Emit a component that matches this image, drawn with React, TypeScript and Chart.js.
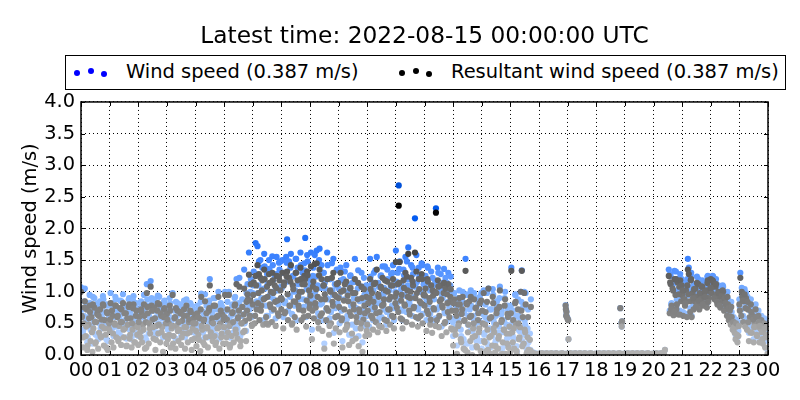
import { useEffect, useRef } from "react";
import Chart from "chart.js/auto";

const FONT = "'DejaVu Sans', sans-serif";

const titleText = "Latest time: 2022-08-15 00:00:00 UTC";
const yAxisLabel = "Wind speed (m/s)";
const windLabel = "Wind speed (0.387 m/s)";
const resultantLabel = "Resultant wind speed (0.387 m/s)";
const hourLabels = ["00","01","02","03","04","05","06","07","08","09","10","11","12","13","14","15","16","17","18","19","20","21","22","23","00"];

// rows below are one hour of the day, the regular readings and the extra ones kept apart
const evenMinutes = [0,2,4,6,8,10,12,14,16,18,20,22,24,26,28,30,32,34,36,38,40,42,44,46,48,50,52,54,56,58];
const oddMinutes = [1,5,7,11,13,17,19,23,25,29,31,35,37,41,43,47,49,53,55,59];

const calmHour = [.02,.01,.02,.03,.01,.02,.02,.01,.03,.02,.01,.02,.02,.03,.01,.02,.01,.02,.03,.02,.01,.02,.02,.01,.03,.02,.02,.01,.02,.02];

const windEven: (number | null)[][] = [
  [1.07,.72,.35,.62,1.05,.48,.82,.28,.6,.95,.4,.72,.18,.55,.9,.33,.66,.78,.25,.5,.85,.42,.6,.93,.3,.68,.5,.8,.22,.58],
  [.5,.98,.38,.75,.3,.62,.92,.45,.7,.35,.58,.86,.3,.66,.96,.42,.55,.78,.28,.62,.88,.4,.7,.25,.52,.93,.36,.6,.82,.47],
  [.3,.72,.5,.85,.38,.6,.95,.28,.66,1.12,.78,.34,.56,1.17,.9,.7,.42,.88,.3,.6,.82,.5,.92,.36,.74,.58,.28,.84,.46,.64],
  [.78,.4,.62,.9,.3,.55,.98,.44,.7,.26,.6,.82,.38,.52,.76,.32,.66,.48,.86,.28,.58,.74,.36,.64,.5,.8,.24,.56,.7,.42],
  [.62,.3,.78,.46,.7,.24,.97,.52,.36,.68,.96,.42,.58,.28,.82,1.2,.5,.66,.38,.9,.46,.32,.72,.56,1.0,.26,.62,.44,.76,.34],
  [.58,1.0,.34,.7,.5,1.0,.28,.62,.46,.8,.36,.9,.54,1.2,.42,.72,1.22,.3,.62,.88,.5,1.35,.66,.38,.82,.95,1.62,.76,1.2,.6],
  [.98,1.32,.62,1.77,.85,1.72,1.1,.72,1.5,.9,1.38,.55,1.6,1.05,.78,1.28,.62,1.5,.95,1.15,.7,1.42,.88,1.25,.58,1.55,1.02,.8,1.35,1.48],
  [.9,1.5,.6,1.3,.85,1.55,1.83,.7,1.48,.92,1.6,.65,1.25,1.0,.78,1.52,.55,1.38,.95,1.15,1.62,.72,1.3,.88,1.45,1.85,.6,1.58,.8,1.2],
  [.98,1.62,.4,1.25,.75,1.58,.92,1.65,1.1,.6,1.68,.8,1.42,.55,1.3,.18,1.05,.72,1.62,.88,.5,1.2,.68,1.45,.95,.35,1.12,.6,1.35,.82],
  [1.05,.5,1.38,.7,.22,1.2,.88,.55,1.42,.62,1.0,.32,1.25,.78,.48,1.15,.9,1.52,.42,.68,1.05,.3,.85,.58,1.3,.2,.72,.95,.45,1.1],
  [.62,1.0,.45,1.52,.78,1.15,.55,1.3,.9,.68,1.55,.5,1.08,.82,1.25,.6,1.4,.95,.72,1.18,.48,1.35,.88,1.02,.62,1.28,.78,1.42,.55,1.1],
  [1.65,.9,1.3,2.68,1.48,.72,1.1,.55,1.35,.95,1.55,.68,1.2,1.7,.85,1.05,1.42,.62,1.28,.92,2.16,.75,1.15,.58,1.38,1.0,.8,1.45,.65,1.12],
  [.92,1.25,.55,1.4,.8,1.05,.65,1.32,.5,1.1,.88,1.18,2.32,.72,1.38,.6,1.0,1.28,.45,.9,1.15,.68,1.22,.52,.98,1.3,.75,1.1,.58,.85],
  [.3,.98,.55,.85,.15,.9,.65,.9,.4,.8,1.0,.25,.7,1.52,.95,.18,.62,.95,.38,.78,.12,.58,.98,.45,.88,.28,.68,.52,.92,.22],
  [.1,.65,1.02,.35,.8,.2,.55,1.05,.42,.12,.72,.3,.95,.5,.18,.62,.85,.25,.45,1.08,.1,.7,.36,.55,.9,.15,.48,.78,.28,.6],
  [.15,1.38,.5,.7,.25,.95,.62,.05,.88,.4,.58,1.0,1.34,.75,.32,.55,.98,.1,.42,.2,.06,.08,.04,.03,.04,.02,.03,.02,.02,.02],
  calmHour,
  calmHour,
  calmHour,
  calmHour,
  [.02,.01,.02,.03,.01,.02,.02,.01,.03,.02,.01,.02,.08,null,null,null,1.35,.7,1.25,.82,1.12,.65,1.33,1.0,.78,1.2,.68,1.15,1.28,.9],
  [1.05,.68,1.0,.85,1.15,.65,1.52,1.38,.95,1.25,.62,1.08,.8,.92,1.12,1.0,.88,1.2,.78,1.05,.95,1.18,.85,1.0,.9,1.12,.82,1.25,.98,1.1],
  [1.22,1.05,1.25,1.18,.95,1.15,1.05,.88,1.1,1.02,.82,1.02,.92,1.08,.78,.95,.85,.7,.88,.62,.78,.55,.68,.48,.6,.42,.32,.52,.28,.38],
  [.88,1.3,.72,1.0,.62,.92,.55,.98,.5,.8,.35,.7,.88,.45,.72,.25,.62,.8,.42,.55,.7,.28,.52,.62,.35,.48,.58,.22,.42,.55],
];

const resultantEven: (number | null)[][] = [
  [1.0,.6,.12,.5,.85,.3,.72,.15,.48,.78,.22,.6,.05,.42,.75,.18,.52,.65,.1,.35,.72,.28,.45,.8,.15,.55,.32,.68,.08,.42],
  [.38,.82,.2,.62,.12,.5,.78,.28,.6,.22,.46,.74,.16,.52,.82,.28,.42,.66,.15,.48,.76,.26,.58,.12,.4,.8,.2,.46,.7,.32],
  [.16,.6,.36,.72,.2,.48,.8,.1,.52,.98,.66,.18,.42,1.08,.78,.56,.26,.75,.08,.46,.7,.34,.8,.2,.62,.44,.05,.72,.3,.5],
  [.65,.25,.5,.78,.12,.42,.95,.3,.58,.1,.46,.7,.22,.4,.66,.16,.54,.34,.72,.1,.44,.62,.2,.52,.36,.68,.08,.42,.58,.26],
  [.5,.14,.66,.32,.58,.06,.92,.4,.2,.56,.85,.28,.44,.12,.7,1.1,.36,.52,.22,.78,.3,.16,.6,.42,.92,.1,.5,.28,.64,.18],
  [.44,.95,.18,.56,.36,.95,.12,.5,.3,.68,.2,.78,.4,1.12,.26,.6,1.08,.14,.5,.76,.36,1.05,.54,.22,.7,.88,1.27,.62,1.12,.46],
  [.8,1.15,.5,1.25,.72,1.42,.98,.55,1.22,.78,1.18,.48,1.35,.9,.6,1.08,.48,1.28,.8,1.0,.52,1.18,.72,1.1,.46,1.25,.86,.62,1.18,1.02],
  [.72,1.3,.42,1.15,.68,1.28,1.32,.55,1.22,.78,1.42,.48,1.1,.85,.6,1.3,.4,1.18,.78,1.0,1.38,.55,1.12,.7,1.25,1.2,.45,1.32,.62,1.02],
  [.8,1.4,.25,1.08,.58,1.44,.75,1.45,.92,.42,1.35,.62,1.2,.38,1.1,.1,.88,.55,1.2,.7,.32,1.02,.5,1.22,.78,.18,.95,.42,1.12,.62],
  [.9,.36,1.3,.55,.12,1.02,.72,.4,1.16,.48,.85,.16,1.05,.62,.34,.98,.72,1.2,.26,.52,.88,.14,.68,.42,1.08,.05,.56,.78,.3,.92],
  [.48,.82,.32,1.2,.62,.98,.4,1.12,.75,.52,1.35,.36,.92,.68,1.08,.44,1.22,.8,.56,1.02,.38,1.16,.72,.88,.48,1.1,.62,1.2,.42,.92],
  [1.47,.75,1.12,2.36,1.47,.58,.95,.42,1.18,.8,1.3,.52,1.02,1.6,.7,.9,1.22,.48,1.1,.76,1.62,.6,.98,.45,1.2,.85,.62,1.28,.5,.95],
  [.78,1.05,.38,1.2,.65,.9,.48,1.1,.35,.94,.72,1.0,2.25,.55,1.18,.44,.85,1.1,.3,.75,.98,.5,1.05,.36,.82,1.12,.6,.92,.42,.7],
  [.15,.88,.4,.7,.02,.8,.5,.8,.25,.65,.92,.1,.55,1.33,.82,.04,.48,.85,.22,.62,0,.42,.88,.3,.75,.12,.55,.36,.82,.06],
  [0,.5,.98,.2,.68,.06,.4,1.05,.28,.02,.6,.15,.82,.36,.04,.48,.72,.1,.3,1.02,0,.55,.2,.4,.78,.02,.34,.65,.12,.45],
  [.05,1.33,.36,.55,.1,.82,.48,0,.72,.25,.44,1.0,1.33,.6,.18,.4,.8,.02,.28,.08,.05,.07,.04,.03,.03,.02,.02,.02,.01,.02],
  calmHour,
  calmHour,
  calmHour,
  calmHour,
  [.02,.01,.02,.03,.01,.02,.02,.01,.03,.02,.01,.02,.08,null,null,null,1.25,.66,1.12,.78,1.05,.63,1.2,.95,.72,1.15,.64,1.08,1.18,.85],
  [.95,.62,.88,.78,1.02,.6,1.35,1.28,.85,1.18,.6,.98,.72,.85,1.05,.92,.8,1.12,.72,.95,.88,1.08,.78,.92,.82,1.02,.75,1.18,.9,1.0],
  [1.2,.98,1.18,1.1,.88,1.08,.95,.8,1.0,.92,.75,.95,.85,1.0,.7,.88,.78,.62,.8,.55,.7,.48,.6,.4,.52,.35,.25,.45,.2,.3],
  [.8,1.22,.62,.92,.52,.85,.45,.9,.4,.72,.22,.6,.8,.35,.62,.2,.5,.72,.32,.45,.62,.2,.42,.55,.25,.38,.5,.12,.32,.45],
];

const windOdd: (number | null)[][] = [
  [.72,.4,.85,.55,.2,.7,.82,.46,.92,.66,.32,.82,.7,.42,.68,.88,.52,.25,.78,.6],
  [.68,.82,.44,.6,.88,.74,.36,.64,.85,.5,.78,.26,.7,.9,.42,.62,.86,.32,.74,.54],
  [.62,.4,.8,.5,.74,.24,.88,.62,.46,.82,.56,.7,.36,.94,.6,.78,.48,.72,.86,.3],
  [.68,.44,.82,.58,.3,.72,.84,.5,.64,.8,.4,.74,.54,.88,.46,.68,.82,.36,.62,.76],
  [.5,.72,.36,.84,.58,.66,.28,.78,.54,.86,.42,.7,.62,.9,.32,.74,.56,.82,.46,.68],
  [.72,.4,.84,.58,.28,.78,.64,.92,.46,.7,.82,.34,.62,.76,.5,.98,1.12,.72,1.0,.62],
  [1.1,.78,1.28,.98,1.48,.86,1.2,1.05,1.4,.62,1.12,1.36,.92,1.56,1.18,1.02,1.28,.82,1.46,1.08],
  [1.06,1.3,.82,1.46,1.16,.94,1.38,.64,1.24,1.02,1.52,1.12,.88,1.42,1.2,.76,1.34,1.04,1.48,.9],
  [1.12,.86,1.38,1.0,1.24,.66,1.5,1.06,.82,1.3,1.14,.9,1.42,.58,1.2,1.02,1.52,.74,1.1,1.34],
  [.92,1.18,.72,1.02,1.32,.56,1.12,.84,1.26,.3,.98,1.16,.74,1.34,.88,.62,1.08,1.22,.82,.5],
  [.86,1.08,1.24,.72,1.02,1.34,.82,1.14,.58,1.26,.96,1.06,1.4,.68,1.2,.88,1.1,1.3,.74,1.0],
  [1.16,.84,1.36,1.04,.7,1.26,.94,1.48,1.1,.8,1.2,1.38,.9,1.08,1.58,.72,1.24,1.0,1.42,1.14],
  [1.12,.86,1.38,1.02,.7,1.22,.9,.58,1.16,1.3,.76,1.06,.94,1.36,.66,1.14,.84,1.02,1.24,.52],
  [.98,.44,.76,.58,1.02,.3,.86,.66,.18,.96,.48,.72,1.02,.38,.62,.9,.22,.8,.54,.98],
  [.82,.32,.6,.98,.16,.72,.4,1.04,.54,.22,.78,.36,.9,.64,.1,.52,1.0,.26,.72,.44],
  [.78,.3,.54,.96,.14,.62,.38,.84,.22,1.0,.48,.12,.72,.34,.88],
  [],
  [],
  [],
  [],
  [null,null,null,null,null,null,null,null,null,null,null,1.28,.8,1.12,.74,1.32,.88,1.04,.7,1.2],
  [1.1,.96,.88,1.2,1.04,.74,1.3,.98,1.12,.82,1.24,.94,1.06,1.16,.88,1.08,1.0,1.24,.92,1.14],
  [1.14,1.24,.98,1.2,.92,1.06,.86,1.02,1.1,.98,.9,1.0,.82,.66,.84,.58,.5,.56,.38,.52],
  [.76,1.06,.94,1.04,.82,.92,.58,.42,.76,.62,.5,.68,.36,.6,.54,.42,.24,.5,.34,.08],
];

const resultantOdd: (number | null)[][] = [
  [.62,.28,.75,.45,.08,.58,.68,.36,.8,.52,.2,.7,.62,.3,.56,.78,.42,.12,.66,.5],
  [.56,.7,.34,.48,.78,.62,.25,.52,.72,.4,.66,.14,.58,.8,.32,.5,.74,.2,.62,.44],
  [.52,.28,.68,.4,.62,.12,.76,.5,.34,.7,.44,.58,.24,.82,.48,.66,.36,.6,.74,.18],
  [.56,.32,.7,.46,.18,.6,.74,.38,.52,.68,.28,.62,.44,.78,.34,.56,.7,.24,.5,.64],
  [.38,.6,.24,.72,.46,.54,.16,.66,.42,.74,.3,.58,.5,.78,.2,.62,.44,.7,.34,.56],
  [.6,.28,.72,.46,.16,.66,.52,.8,.34,.58,.7,.22,.5,.64,.38,.84,.96,.58,.86,.48],
  [.95,.62,1.1,.82,1.28,.7,1.02,.88,1.2,.5,.92,1.14,.76,1.3,.98,.84,1.06,.66,1.24,.9],
  [.88,1.1,.66,1.24,.96,.78,1.16,.5,1.04,.84,1.3,.92,.72,1.2,1.0,.6,1.12,.86,1.26,.74],
  [.94,.7,1.16,.82,1.04,.52,1.26,.88,.66,1.1,.96,.74,1.2,.46,1.0,.84,1.3,.6,.92,1.14],
  [.76,1.0,.58,.86,1.12,.44,.94,.68,1.06,.22,.8,.98,.6,1.14,.72,.5,.9,1.04,.66,.38],
  [.7,.9,1.04,.58,.84,1.14,.66,.96,.46,1.06,.78,.88,1.18,.54,1.0,.72,.92,1.1,.6,.82],
  [.98,.68,1.14,.86,.56,1.06,.78,1.24,.92,.64,1.0,1.16,.74,.9,1.32,.58,1.04,.82,1.2,.96],
  [.94,.7,1.16,.84,.56,1.02,.74,.46,.98,1.08,.62,.88,.78,1.14,.52,.96,.68,.84,1.04,.4],
  [.82,.32,.62,.46,.9,.2,.72,.54,.08,.8,.36,.6,.92,.28,.5,.74,.14,.66,.42,.86],
  [.7,.22,.48,.84,.08,.58,.3,.92,.42,.14,.66,.26,.76,.52,.02,.4,.88,.18,.6,.34],
  [.66,.2,.42,.84,.06,.5,.28,.7,.14,.98,.36,.04,.6,.24,.76],
  [],
  [],
  [],
  [],
  [null,null,null,null,null,null,null,null,null,null,null,1.15,.72,1.02,.68,1.2,.8,.96,.64,1.1],
  [1.02,.88,.82,1.1,.96,.68,1.2,.9,1.04,.76,1.14,.86,.98,1.08,.8,1.0,.92,1.14,.84,1.06],
  [1.06,1.16,.9,1.12,.84,.98,.78,.94,1.02,.9,.82,.92,.74,.6,.76,.52,.44,.5,.32,.46],
  [.7,1.0,.86,.96,.74,.84,.52,.36,.68,.56,.44,.6,.3,.52,.46,.36,.18,.42,.28,.02],
];

// short bursts of readings during the calm stretch
const burstTimes = [16.93,16.94,16.96,16.95,16.97,17.0,17.02,17.03,18.84,18.88,18.9,18.89];
const burstWind = [.79,.73,.69,.63,.61,.58,.56,.25,.74,.51,.53,.45];
const burstResultant = [.78,.72,.68,.62,.6,.57,.55,.25,.74,.5,.53,.45];

// speed -> colour, faster readings are drawn stronger
const windStops: [number, number[]][] = [[0,[190,215,255]],[.9,[130,180,255]],[1.5,[64,133,255]],[2.2,[0,90,240]],[2.7,[0,80,215]]];
const resultantStops: [number, number[]][] = [[0,[178,178,178]],[.45,[165,165,165]],[.55,[135,135,135]],[.8,[125,125,125]],[1.1,[106,106,106]],[1.47,[80,80,80]],[2.3,[0,0,0]]];

const colorFor = (stops: [number, number[]][], v: number) => {
  let i = 0;
  while (i < stops.length - 2 && v > stops[i + 1][0]) i++;
  const [v0, c0] = stops[i];
  const [v1, c1] = stops[i + 1];
  const t = Math.min(1, Math.max(0, (v - v0) / (v1 - v0)));
  const rgb = c0.map((c, k) => Math.round(c + (c1[k] - c) * t));
  return `rgb(${rgb.join(",")})`;
};

const toPoints = (even: (number | null)[][], odd: (number | null)[][], burst: number[]) => {
  const pts: { x: number; y: number }[] = [];
  const add = (rows: (number | null)[][], minutes: number[]) => {
    rows.forEach((row, hour) => {
      row.forEach((v, i) => {
        if (v !== null) pts.push({ x: hour + minutes[i] / 60, y: v });
      });
    });
  };
  add(even, evenMinutes);
  add(odd, oddMinutes);
  burst.forEach((v, i) => pts.push({ x: burstTimes[i], y: v }));
  return pts;
};

// matplotlib style frame with inward ticks on all four sides
const framePlugin = {
  id: "frame",
  afterDatasetsDraw(chart: any) {
    const { ctx, chartArea: a, scales } = chart;
    ctx.save();
    ctx.strokeStyle = "#000";
    ctx.lineWidth = 1;
    ctx.beginPath();
    scales.x.ticks.forEach((t: any) => {
      const px = Math.round(scales.x.getPixelForValue(t.value)) + 0.5;
      ctx.moveTo(px, a.top);
      ctx.lineTo(px, a.top + 4);
      ctx.moveTo(px, a.bottom);
      ctx.lineTo(px, a.bottom - 4);
    });
    scales.y.ticks.forEach((t: any) => {
      const py = Math.round(scales.y.getPixelForValue(t.value)) + 0.5;
      ctx.moveTo(a.left, py);
      ctx.lineTo(a.left + 4, py);
      ctx.moveTo(a.right, py);
      ctx.lineTo(a.right - 4, py);
    });
    ctx.stroke();
    ctx.lineWidth = 1.5;
    ctx.strokeRect(a.left, a.top, a.right - a.left, a.bottom - a.top);
    ctx.restore();
  },
};

const LegendDots = ({ color, dots }: { color: string; dots: number[][] }) => (
  <>
    {dots.map(([x, y], i) => (
      <span
        key={i}
        style={{
          position: "absolute",
          left: x - 3,
          top: y - 3,
          width: 6,
          height: 6,
          borderRadius: "50%",
          background: color,
        }}
      />
    ))}
  </>
);

const legendText = (left: number): React.CSSProperties => ({
  position: "absolute",
  left,
  top: 59,
  fontFamily: FONT,
  fontSize: 19.45,
  lineHeight: "26px",
  color: "#000",
  whiteSpace: "nowrap",
});

const App = () => {
  const canvasRef = useRef<HTMLCanvasElement | null>(null);

  useEffect(() => {
    if (!canvasRef.current) return;
    const chart = new Chart(canvasRef.current, {
      type: "scatter",
      plugins: [framePlugin],
      data: {
        datasets: [
          {
            label: windLabel,
            data: toPoints(windEven, windOdd, burstWind),
            order: 2,
            pointRadius: 3.1,
            pointBorderWidth: 0,
            backgroundColor: (c: any) => colorFor(windStops, c.parsed ? c.parsed.y : 0),
          },
          {
            label: resultantLabel,
            data: toPoints(resultantEven, resultantOdd, burstResultant),
            order: 1,
            pointRadius: 3.1,
            pointBorderWidth: 0,
            backgroundColor: (c: any) => colorFor(resultantStops, c.parsed ? c.parsed.y : 0),
          },
        ],
      },
      options: {
        responsive: false,
        animation: false,
        layout: { padding: { left: 0, right: 32, top: 0, bottom: 0 } },
        plugins: {
          legend: { display: false },
          tooltip: { enabled: false },
          title: {
            display: true,
            text: titleText,
            fullSize: false,
            color: "#000",
            font: { family: FONT, size: 23.3, weight: "normal" },
            padding: { top: 23, bottom: 51 },
          },
        },
        scales: {
          x: {
            type: "linear",
            min: 0,
            max: 24,
            afterFit: (s: any) => { s.height = 45; },
            border: { display: false, dash: [1, 3] },
            grid: { color: "#000", lineWidth: 1, drawTicks: false },
            ticks: {
              stepSize: 1,
              autoSkip: false,
              maxRotation: 0,
              padding: 4,
              color: "#000",
              font: { family: FONT, size: 19.4 },
              callback: (v: any) => hourLabels[v],
            },
          },
          y: {
            min: 0,
            max: 4,
            afterFit: (s: any) => { s.width = 81; },
            border: { display: false, dash: [1, 3] },
            grid: { color: "#000", lineWidth: 1, drawTicks: false },
            title: {
              display: true,
              text: yAxisLabel,
              color: "#000",
              font: { family: FONT, size: 19.4, weight: "normal" },
              padding: { top: 19, bottom: 0 },
            },
            ticks: {
              stepSize: 0.5,
              padding: 6,
              color: "#000",
              font: { family: FONT, size: 19.4 },
              callback: (v: any) => Number(v).toFixed(1),
            },
          },
        },
      },
    } as any);

    return () => {
      chart.destroy();
    };
  }, []);

  return (
    <div style={{ position: "absolute", left: 0, top: 0, width: 800, height: 400, background: "#fff" }}>
      <canvas ref={canvasRef} width={800} height={400} style={{ display: "block" }} />
      <div
        style={{
          position: "absolute",
          left: 65,
          top: 55,
          width: 721,
          height: 35,
          border: "1.5px solid #000",
          boxSizing: "border-box",
          background: "#fff",
        }}
      />
      <LegendDots color="#0000ff" dots={[[77, 72.7], [90.7, 71], [104, 73.5]]} />
      <span style={legendText(126)}>{windLabel}</span>
      <LegendDots color="#000" dots={[[401.7, 73], [415.6, 71], [429, 74]]} />
      <span style={legendText(451)}>{resultantLabel}</span>
    </div>
  );
};

export default App;
